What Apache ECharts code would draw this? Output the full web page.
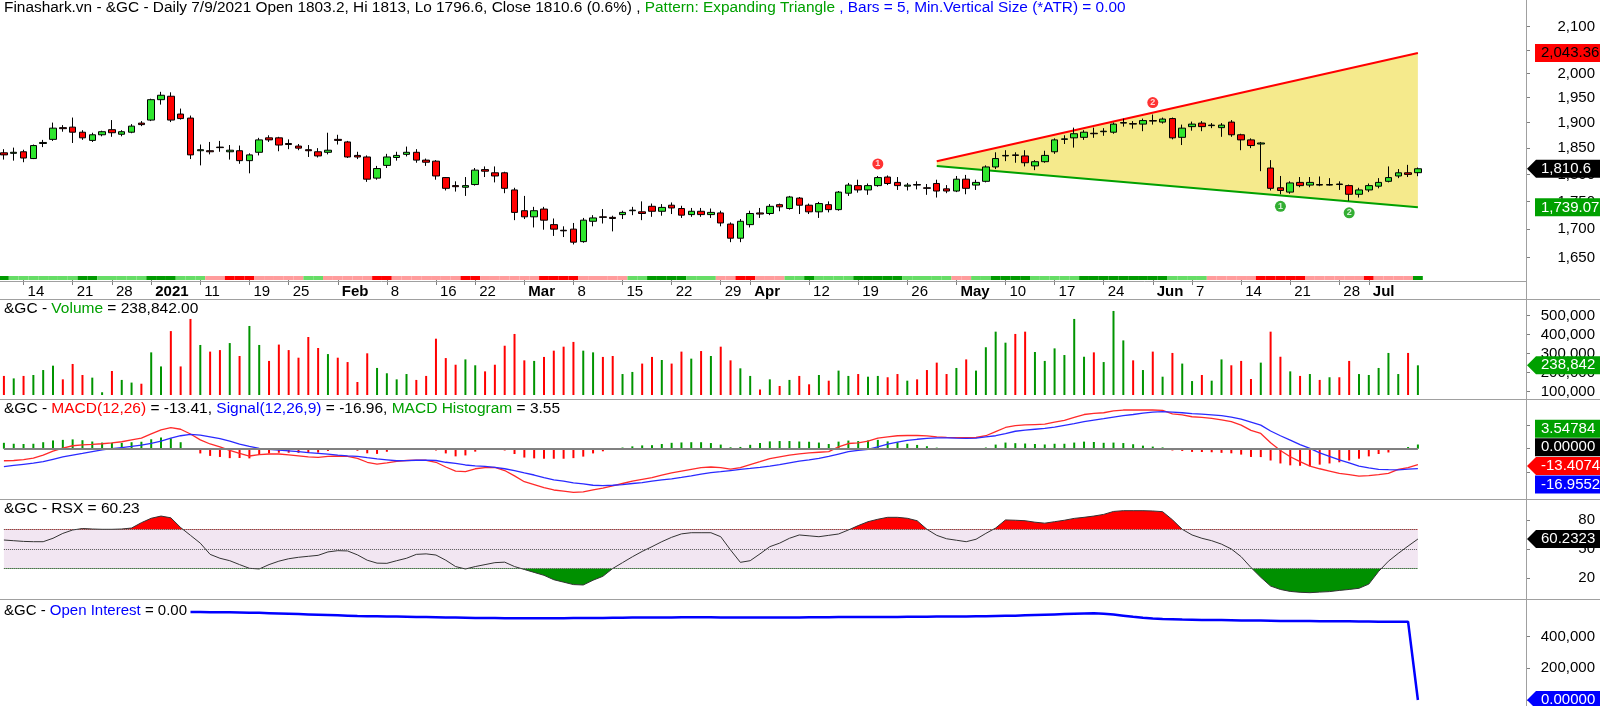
<!DOCTYPE html>
<html>
<head>
<meta charset="utf-8">
<title>&amp;GC Daily</title>
<script src="https://cdn.jsdelivr.net/npm/echarts@6.0.0/dist/echarts.min.js"></script>
<style>
html,body{margin:0;padding:0;background:#ffffff;overflow:hidden;}
#chart{width:1600px;height:706px;}
</style>
</head>
<body>
<div id="chart"></div>
<script>
// ================= DATA =================
const tradingDays = [
  ['2020-12', [10,11,14,15,16,17,18,21,22,23,24,28,29,30,31]],
  ['2021-01', [4,5,6,7,8,11,12,13,14,15,19,20,21,22,25,26,27,28,29]],
  ['2021-02', [1,2,3,4,5,8,9,10,11,12,16,17,18,19,22,23,24,25,26]],
  ['2021-03', [1,2,3,4,5,8,9,10,11,12,15,16,17,18,19,22,23,24,25,26,29,30,31]],
  ['2021-04', [1,5,6,7,8,9,12,13,14,15,16,19,20,21,22,23,26,27,28,29,30]],
  ['2021-05', [3,4,5,6,7,10,11,12,13,14,17,18,19,20,21,24,25,26,27,28]],
  ['2021-06', [1,2,3,4,7,8,9,10,11,14,15,16,17,18,21,22,23,24,25,28,29,30]],
  ['2021-07', [1,2,6,7,8,9]]
];
const dates = tradingDays.flatMap(([m, ds]) => ds.map(d => m + '-' + String(d).padStart(2, '0')));

const dateTicks = [
  ['2020-12-14','14'],['2020-12-21','21'],['2020-12-28','28'],['2021-01-04','2021'],['2021-01-11','11'],
  ['2021-01-19','19'],['2021-01-25','25'],['2021-02-01','Feb'],['2021-02-08','8'],['2021-02-16','16'],
  ['2021-02-22','22'],['2021-03-01','Mar'],['2021-03-08','8'],['2021-03-15','15'],['2021-03-22','22'],
  ['2021-03-29','29'],['2021-04-01','Apr'],['2021-04-12','12'],['2021-04-19','19'],['2021-04-26','26'],
  ['2021-05-03','May'],['2021-05-10','10'],['2021-05-17','17'],['2021-05-24','24'],['2021-06-01','Jun'],
  ['2021-06-07','7'],['2021-06-14','14'],['2021-06-21','21'],['2021-06-28','28'],['2021-07-01','Jul']
];
const boldTickLabels = ['2021','Feb','Mar','Apr','May','Jun','Jul'];

const open = [
 1841,1840,1843,1830,1859,1867,1890,1891,1881,1865,
 1876,1886,1877,1881,1899,1905,1946,1953,1917,1909,
 1845,1845,1852,1843,1845,1826,1842,1870,1870,1859,
 1854,1847,1843,1842,1867,1862,1836,1833,1793,1817,
 1832,1838,1842,1827,1825,1794,1779,1776,1781,1809,
 1803,1803,1771,1733,1722,1736,1708,1698,1700,1678,
 1714,1722,1721,1726,1733,1731,1741,1732,1743,1737,
 1726,1732,1726,1729,1709,1684,1708,1729,1728,1744,
 1737,1756,1743,1731,1744,1735,1765,1779,1771,1779,
 1795,1785,1778,1781,1775,1783,1773,1769,1791,1780,
 1787,1814,1835,1837,1835,1816,1824,1843,1867,1870,
 1871,1879,1882,1881,1899,1898,1897,1904,1901,1908,
 1871,1892,1899,1894,1890,1901,1876,1866,1858,1812,
 1775,1767,1785,1780,1781,1780,1782,1779,1763,1771,
 1778,1787,1797,1803,1803.2];
const high = [
 1848,1851,1847,1857,1866,1900,1895,1910,1885,1880,
 1884,1905,1885,1897,1903,1948,1962,1961,1928,1914,
 1857,1862,1864,1856,1855,1840,1870,1875,1872,1867,
 1858,1856,1850,1880,1876,1864,1843,1836,1816,1839,
 1843,1853,1848,1830,1827,1795,1787,1795,1812,1815,
 1815,1805,1775,1760,1740,1740,1719,1705,1711,1720,
 1725,1736,1724,1733,1740,1750,1746,1745,1748,1742,
 1738,1738,1737,1733,1712,1718,1733,1738,1745,1746,
 1760,1758,1746,1749,1750,1769,1784,1790,1783,1797,
 1798,1795,1784,1787,1782,1790,1780,1797,1799,1790,
 1817,1842,1846,1842,1846,1827,1845,1869,1875,1890,
 1885,1890,1889,1900,1908,1903,1908,1916,1910,1910,
 1896,1902,1903,1899,1899,1905,1878,1869,1862,1827,
 1797,1787,1795,1795,1796,1793,1787,1781,1775,1783,
 1793,1815,1810,1818,1813];
const low = [
 1828,1826,1823,1829,1852,1864,1882,1860,1866,1862,
 1873,1872,1873,1879,1893,1903,1936,1901,1906,1829,
 1817,1838,1843,1828,1820,1802,1836,1862,1844,1848,
 1846,1833,1832,1838,1857,1831,1829,1786,1790,1812,
 1826,1834,1822,1816,1790,1770,1768,1760,1779,1795,
 1785,1765,1716,1718,1703,1699,1688,1686,1673,1676,
 1705,1710,1696,1718,1725,1716,1722,1724,1727,1720,
 1722,1722,1720,1705,1677,1677,1703,1720,1725,1732,
 1735,1727,1727,1720,1730,1733,1760,1766,1762,1777,
 1780,1771,1770,1772,1762,1757,1765,1767,1763,1771,
 1785,1810,1825,1822,1815,1808,1822,1839,1858,1851,
 1866,1870,1874,1878,1892,1888,1883,1896,1898,1867,
 1856,1884,1883,1889,1872,1872,1846,1850,1806,1770,
 1763,1764,1776,1776,1778,1779,1771,1751,1757,1767,
 1774,1785,1793,1795,1796.6];
const close = [
 1837,1842,1831,1855,1861,1889,1888,1881,1870,1876,
 1882,1880,1882,1893,1896,1946,1955,1905,1908,1837,
 1847,1843,1851,1846,1826,1837,1866,1866,1856,1857,
 1850,1845,1835,1846,1865,1833,1833,1791,1811,1833,
 1836,1842,1827,1823,1797,1774,1777,1779,1808,1806,
 1797,1774,1730,1722,1733,1716,1700,1697,1677,1716,
 1720,1721,1719,1730,1734,1728,1732,1739,1738,1725,
 1732,1726,1730,1711,1684,1714,1728,1727,1741,1740,
 1758,1743,1731,1746,1735,1767,1780,1771,1779,1794,
 1783,1779,1780,1780,1774,1769,1769,1791,1774,1785,
 1814,1830,1836,1836,1822,1824,1836,1866,1868,1878,
 1881,1878,1883,1897,1900,1897,1904,1903,1907,1870,
 1889,1897,1892,1895,1895,1876,1866,1855,1860,1774,
 1770,1784,1779,1785,1780,1781,1781,1763,1771,1779,
 1785,1794,1803,1800,1810.6];

// trend band under the price pane: G dark green, g light green, R red, r pink
const trendBand = ('G ggggggg GG ggggg GGG ggg rr RRR rrrrr gg rrrrr RR rrrrrrr RR rrrrrr RRRR rrrrr gg GGGG ggg rr RR rrr gg G gggg GGGGG ggggg rr gg GGGG ggggg GGGGGGGGG gggg rrrrr RRRRR rrrrrr R rrrr G').replace(/\s/g,'').split('');

// expanding triangle
const triUpper = [['2021-04-29', 1825], ['2021-07-09', 2043.36]];
const triLower = [['2021-04-29', 1816], ['2021-07-09', 1739.07]];
const patternTops = ['2021-04-21', '2021-06-01'];
const patternBottoms = ['2021-06-18', '2021-06-29'];

const volume = [
 183000,170000,183000,188000,214000,237000,165000,246000,188000,174000,
 97000,209000,162000,148000,142000,307000,233000,419000,233000,483000,
 346000,311000,319000,356000,288000,446000,346000,262000,348000,319000,
 279000,388000,330000,298000,279000,256000,151000,302000,225000,197000,
 165000,193000,162000,183000,379000,277000,242000,270000,239000,207000,
 242000,342000,404000,265000,262000,283000,316000,337000,362000,316000,
 307000,283000,288000,193000,204000,248000,283000,267000,248000,311000,
 274000,314000,288000,337000,265000,223000,183000,112000,165000,130000,
 162000,183000,139000,188000,158000,211000,183000,193000,179000,183000,
 176000,193000,158000,165000,214000,253000,193000,225000,270000,211000,
 334000,416000,358000,404000,416000,309000,262000,328000,293000,483000,
 284000,307000,256000,525000,370000,265000,214000,311000,179000,304000,
 248000,156000,188000,158000,270000,239000,262000,167000,253000,416000,
 284000,207000,183000,193000,162000,176000,176000,262000,193000,188000,
 225000,304000,193000,304000,238842];

const macd = [
 -10.2,-10.0,-9.2,-8.0,-5.5,-2.0,0.5,2.5,3.2,3.6,
 4.2,5.0,5.9,7.5,9.0,12.5,16.0,17.8,16.5,12.5,
 7.5,4.0,1.5,-1.5,-4.0,-6.2,-5.0,-4.5,-4.5,-5.2,
 -6.0,-7.0,-7.3,-6.5,-6.2,-6.5,-8.2,-11.5,-13.0,-12.0,
 -10.8,-10.0,-9.6,-9.8,-11.5,-15.5,-19.0,-19.5,-17.0,-16.0,
 -15.8,-18.5,-23.0,-28.0,-30.5,-33.0,-35.0,-36.0,-37.0,-36.6,
 -35.0,-33.5,-31.5,-29.5,-27.5,-26.0,-24.5,-22.5,-20.5,-19.0,
 -17.5,-16.0,-15.5,-16.0,-17.3,-16.0,-13.4,-11.0,-8.5,-7.0,
 -5.5,-4.4,-3.6,-3.0,-2.5,1.5,4.4,5.0,6.4,9.0,
 10.1,11.0,11.2,11.2,10.8,10.1,9.6,9.4,9.3,9.5,
 11.0,14.5,18.0,19.5,20.2,20.5,20.8,22.5,24.0,26.5,
 29.0,30.0,30.5,32.0,32.8,32.8,32.8,32.8,32.5,29.5,
 28.6,27.1,26.5,25.7,24.5,22.9,20.0,15.5,12.9,5.0,
 -1.5,-6.8,-11.0,-14.7,-17.0,-19.0,-21.0,-22.0,-23.2,-22.8,
 -22.0,-21.0,-17.5,-16.0,-13.41];
const signal = [
 -15.2,-14.2,-13.2,-12.2,-11.0,-9.0,-7.0,-5.4,-4.0,-2.5,
 -1.0,0.0,1.0,2.0,3.1,4.5,6.5,9.0,11.0,12.1,
 11.5,10.1,8.5,6.5,3.9,2.0,0.3,-0.5,-1.1,-1.8,
 -2.5,-3.4,-4.0,-4.6,-5.4,-6.0,-6.5,-7.6,-8.6,-9.4,
 -10.2,-10.1,-9.8,-9.6,-10.0,-11.5,-12.5,-13.8,-14.5,-15.0,
 -15.8,-17.0,-18.5,-20.5,-22.3,-24.5,-26.5,-27.5,-29.0,-29.9,
 -31.0,-31.3,-31.0,-30.5,-29.5,-28.8,-27.5,-26.5,-25.5,-24.3,
 -23.0,-21.5,-20.3,-19.5,-18.5,-17.5,-16.7,-15.8,-14.7,-13.5,
 -12.0,-10.5,-9.5,-8.2,-6.5,-4.5,-2.5,-1.5,-0.6,1.5,
 3.9,5.5,7.0,8.0,8.7,9.2,9.1,8.9,8.8,8.9,
 10.0,11.0,12.8,14.8,15.8,16.5,17.2,18.3,19.8,21.3,
 23.0,24.3,25.5,26.8,28.0,29.0,30.2,31.0,31.4,31.0,
 30.5,29.8,29.3,28.7,28.0,26.8,25.0,22.5,20.0,15.0,
 11.0,7.3,3.5,0.3,-3.5,-6.5,-9.5,-12.0,-14.7,-16.3,
 -17.5,-17.8,-17.9,-17.4,-16.96];
const macdHist = [
 5.0,4.2,4.0,4.2,5.5,7.0,7.5,7.9,7.2,6.1,
 5.2,5.0,4.9,5.5,5.9,8.0,9.5,8.8,5.5,0.4,
 -4.0,-6.1,-7.0,-8.0,-7.9,-8.2,-5.3,-4.0,-3.4,-3.4,
 -3.5,-3.6,-3.3,-1.9,-0.8,-0.5,-1.7,-3.9,-4.4,-2.6,
 -0.6,0.1,0.2,-0.2,-1.5,-4.0,-6.5,-5.7,-2.5,-1.0,
 0.0,-1.5,-4.5,-7.5,-8.2,-8.5,-8.5,-8.5,-8.0,-6.7,
 -4.0,-2.2,-0.5,1.0,2.0,2.8,3.0,4.0,5.0,5.3,
 5.5,5.5,4.8,3.5,1.2,1.5,3.3,4.8,6.2,6.5,
 6.5,6.1,5.9,5.2,4.0,6.0,6.9,6.5,7.0,7.5,
 6.2,5.5,4.2,3.2,2.1,0.9,0.5,0.5,0.5,0.6,
 1.0,3.5,5.2,4.7,4.4,4.0,3.6,4.2,4.2,5.2,
 6.0,5.7,5.0,5.2,4.8,3.8,2.6,1.8,1.1,-1.5,
 -1.9,-2.7,-2.8,-3.0,-3.5,-3.9,-5.0,-7.0,-7.1,-10.0,
 -12.5,-14.1,-14.5,-15.0,-13.5,-12.5,-11.5,-10.0,-8.5,-6.5,
 -4.5,-3.2,0.4,1.4,3.55];

const rsx = [
 59.2,58.5,57.8,57.5,57.5,61,66,69.5,71,70.5,
 70.2,70.2,70.5,71.5,77,81.5,83.8,82,72,64,
 56,44.5,40.5,38,34,30.2,29.5,34,37.5,40,
 41.5,42.5,43.5,47,48.3,48,44,38.5,35.5,35.3,
 38,40.5,44.5,45,43.8,38.5,32,29.5,32,34,
 36,36.5,32,29,26,23,18.5,16,13.5,13.1,
 18,22,30,36,42,47.5,52.4,57.5,62,65.5,
 66.7,66.7,66.7,62.6,49,36.3,38,45,52.4,56,
 61,64.4,63.5,62.6,64,65.4,69.5,74,78,80.5,
 82.5,82.5,81.5,79,70.2,64,60.5,59,57.5,60,
 66,71.5,79.8,79.5,79,77.5,76.5,78,79.5,81.4,
 82.5,83.8,85.5,88.5,89.3,89.3,89.3,89,88.3,80,
 70.2,64.4,61,58.5,55,50,42.1,31,21,12,
 8.5,6.5,5.6,5.2,5.8,6.3,7.5,8.5,9.7,14,
 27,37.5,45.5,53,60.23];
const rsxLevels = [30, 50, 70];

const openInterest = [
 null,null,null,null,null,null,null,null,null,null,
 null,null,null,null,null,null,null,null,null,
 556000,556000,555000,555000,554000,553000,552000,551000,549000,547000,545000,
 543000,541000,539000,537000,535000,533000,531000,530000,529000,528000,
 527000,526000,525000,524000,523000,522000,521000,520000,519000,518000,
 518000,517000,517000,516000,516000,516000,517000,517000,518000,518000,
 519000,519000,520000,520000,521000,521000,522000,522000,522000,523000,
 523000,523000,523000,522000,522000,521000,521000,521000,521000,522000,
 522000,522000,523000,523000,523000,524000,524000,524000,525000,525000,
 525000,525000,526000,526000,526000,527000,527000,528000,528000,529000,
 530000,531000,532000,533000,535000,537000,539000,541000,543000,545000,
 547000,548000,545000,540000,533000,526000,520000,515000,512000,510000,
 508000,507000,506000,505000,505000,504000,503000,502000,502000,501000,
 500000,500000,499000,499000,498000,498000,497000,497000,496000,496000,
 495000,495000,495000,495000,0];

const priceTicks = [1650,1700,1750,1800,1850,1900,1950,2000,2050,2100];
const volumeTicks = [100000,200000,300000,400000,500000];
const macdTicks = [-20, 0, 20];
const rsxTicks = [20, 50, 80];
const oiTicks = [0, 200000, 400000];

// ================= STYLE / LAYOUT =================
const FONT = '"Liberation Sans", Arial, Helvetica, sans-serif';
const C_UP = '#2ee62e', C_DN = '#ff0000';
const C_VUP = '#009400', C_VDN = '#ff0000';
const BAND_COLORS = {G:'#009a00', g:'#66dd66', R:'#ff0000', r:'#ff9c9c'};
const N_FUTURE = 10;
const cats = dates.concat(Array.from({length: N_FUTURE}, (_, i) => 'f' + i));
const last = dates.length - 1;
const idxOf = d => dates.indexOf(d);

const PMIN = 1629.0, PMAX = 2159.4;     // log price axis range
const VMIN = 82632, VMAX = 582632;
const MMIN = -41.8, MMAX = 41.3;
const RMIN = -0.26, RMAX = 100.26;
const OMIN = 0, OMAX = 632000;

const tickMap = new Map(dateTicks);
const boldSet = new Set(boldTickLabels);
const fmtInt = v => String(Math.round(v)).replace(/\B(?=(\d{3})+(?!\d))/g, ',');

const chart = echarts.init(document.getElementById('chart'), null, {renderer: 'canvas'});

const gridDefs = [
  {top: 0, height: 270},
  {top: 276, height: 4},
  {top: 300, height: 95},
  {top: 400, height: 98},
  {top: 500, height: 98},
  {top: 600, height: 100}
].map(g => Object.assign({left: -1, right: 79, containLabel: false, outerBoundsMode: 'none'}, g));

function xa(gi, extra) {
  return Object.assign({
    type: 'category', gridIndex: gi, data: cats, boundaryGap: true,
    axisLine: {show: false}, axisTick: {show: false}, axisLabel: {show: false}, splitLine: {show: false}
  }, extra || {});
}
const tickLineStyle = {color: '#808080', width: 1};
function ya(gi, min, max, ticks, showLabels, fmt, extra) {
  return Object.assign({
    type: 'value', gridIndex: gi, position: 'right', offset: 5, min, max, scale: false,
    axisLine: {show: false}, splitLine: {show: false},
    axisTick: {show: true, length: 4, lineStyle: tickLineStyle, customValues: ticks},
    axisLabel: {show: showLabels, customValues: ticks, formatter: fmt, margin: 69, align: 'right',
                fontSize: 15, color: '#000', fontFamily: FONT}
  }, extra || {});
}

const xAxes = [
  xa(0),
  xa(1, {
    axisTick: {show: true, alignWithLabel: true, interval: (i, v) => tickMap.has(v), length: 5, lineStyle: tickLineStyle},
    axisLabel: {show: true, interval: (i, v) => tickMap.has(v),
      formatter: v => { const t = tickMap.get(v) || ''; return boldSet.has(t) ? '{b|' + t + '}' : t; },
      align: 'left', padding: [0, 0, 0, 4], margin: 4, fontSize: 15, color: '#000', fontFamily: FONT,
      rich: {b: {fontWeight: 'bold', fontSize: 15, color: '#000', fontFamily: FONT}}}
  }),
  xa(2), xa(3), xa(4), xa(5)
];

const yAxes = [
  {type: 'log', gridIndex: 0, min: PMIN, max: PMAX, show: false, logBase: 10},
  ya(0, Math.log(PMIN), Math.log(PMAX), priceTicks.map(Math.log), true, v => fmtInt(Math.exp(v))),
  {type: 'value', gridIndex: 1, min: 0, max: 1, show: false},
  ya(2, VMIN, VMAX, volumeTicks, true, v => fmtInt(v)),
  ya(3, MMIN, MMAX, macdTicks, false, v => String(v)),
  ya(4, RMIN, RMAX, rsxTicks, true, v => String(v)),
  ya(5, OMIN, OMAX, oiTicks, true, v => (v === 0 ? '' : fmtInt(v)))
];

const series = [];
// 0 triangle
series.push({
  type: 'custom', name: 'triangle', xAxisIndex: 0, yAxisIndex: 0, z: 1, silent: true,
  data: [[0]],
  renderItem: (params, api) => {
    const u0 = api.coord([idxOf(triUpper[0][0]), triUpper[0][1]]);
    const u1 = api.coord([idxOf(triUpper[1][0]), triUpper[1][1]]);
    const l0 = api.coord([idxOf(triLower[0][0]), triLower[0][1]]);
    const l1 = api.coord([idxOf(triLower[1][0]), triLower[1][1]]);
    return {type: 'group', children: [
      {type: 'polygon', shape: {points: [u0, u1, l1, l0]}, style: {fill: '#f5ea8c'}},
      {type: 'line', shape: {x1: u0[0], y1: u0[1], x2: u1[0], y2: u1[1]}, style: {stroke: '#ff0000', lineWidth: 2}},
      {type: 'line', shape: {x1: l0[0], y1: l0[1], x2: l1[0], y2: l1[1]}, style: {stroke: '#00a000', lineWidth: 2}}
    ]};
  }
});
// 1 candles
series.push({
  type: 'candlestick', name: 'price', xAxisIndex: 0, yAxisIndex: 0, z: 5, barWidth: 7,
  data: dates.map((d, i) => [open[i], close[i], low[i], high[i]]),
  itemStyle: {color: C_UP, color0: C_DN, borderColor: '#000', borderColor0: '#000', borderWidth: 1},
  emphasis: {disabled: true}
});
// 2 pattern markers
series.push({
  type: 'scatter', name: 'pattern', xAxisIndex: 0, yAxisIndex: 0, z: 6, symbol: 'circle', symbolSize: 11, silent: true,
  data: patternTops.map((d, k) => ({value: [idxOf(d), high[idxOf(d)]], symbolOffset: [0, -12],
          itemStyle: {color: '#ff0000'}, label: {formatter: String(k + 1)}}))
        .concat(patternBottoms.map((d, k) => ({value: [idxOf(d), low[idxOf(d)]], symbolOffset: [0, 12],
          itemStyle: {color: '#009a00'}, label: {formatter: String(k + 1)}}))),
  label: {show: true, position: 'inside', color: '#fff', fontSize: 9, fontWeight: 'bold', fontFamily: FONT}
});
// 3 trend band
series.push({
  type: 'bar', name: 'band', xAxisIndex: 1, yAxisIndex: 2, barWidth: '100%', silent: true,
  data: trendBand.map(c => ({value: 1, itemStyle: {color: BAND_COLORS[c]}}))
});
// 4 volume
series.push({
  type: 'bar', name: 'volume', xAxisIndex: 2, yAxisIndex: 3, barWidth: 2, silent: true,
  data: volume.map((v, i) => ({value: v, itemStyle: {color: close[i] >= open[i] ? C_VUP : C_VDN}}))
});
// 5 MACD histogram
series.push({
  type: 'bar', name: 'hist', xAxisIndex: 3, yAxisIndex: 4, barWidth: 2, silent: true,
  data: macdHist.map(v => ({value: v, itemStyle: {color: v >= 0 ? '#009a00' : '#ff0000'}})),
  markLine: {silent: true, symbol: 'none', label: {show: false}, lineStyle: {color: '#808080', width: 2, type: 'solid'},
             data: [[{coord: [0, 0]}, {coord: [last, 0]}]]}
});
// 6 MACD, 7 Signal
series.push({type: 'line', name: 'macd', xAxisIndex: 3, yAxisIndex: 4, data: macd, showSymbol: false, symbol: 'none',
  lineStyle: {color: '#ff2a2a', width: 1.3}, silent: true, z: 3});
series.push({type: 'line', name: 'signal', xAxisIndex: 3, yAxisIndex: 4, data: signal, showSymbol: false, symbol: 'none',
  lineStyle: {color: '#2a2aff', width: 1.3}, silent: true, z: 3});
// 8 RSX upper fill, 9 RSX lower fill
series.push({type: 'line', name: 'rsxUp', xAxisIndex: 4, yAxisIndex: 5, data: rsx, showSymbol: false, symbol: 'none',
  lineStyle: {opacity: 0, width: 0}, areaStyle: {origin: rsxLevels[2], opacity: 1}, silent: true, z: 2});
series.push({type: 'line', name: 'rsxDn', xAxisIndex: 4, yAxisIndex: 5, data: rsx, showSymbol: false, symbol: 'none',
  lineStyle: {opacity: 0, width: 0}, areaStyle: {origin: rsxLevels[0], opacity: 1}, silent: true, z: 2});
// 10 RSX line
series.push({type: 'line', name: 'rsx', xAxisIndex: 4, yAxisIndex: 5, data: rsx, showSymbol: false, symbol: 'none',
  lineStyle: {color: '#333', width: 1}, silent: true, z: 3,
  markArea: {silent: true, itemStyle: {color: '#f2e6f2'},
    data: [[{coord: [0, rsxLevels[0]]}, {coord: [last, rsxLevels[2]]}]]},
  markLine: {silent: true, symbol: 'none', label: {show: false}, lineStyle: {type: 'dotted', color: '#555', width: 1},
    data: rsxLevels.map(l => [{coord: [0, l]}, {coord: [last, l]}])}
});
// 11 OI
series.push({type: 'line', name: 'oi', xAxisIndex: 5, yAxisIndex: 6, data: openInterest, showSymbol: false, symbol: 'none',
  lineStyle: {color: '#0000ff', width: 2.5}, silent: true, connectNulls: false});

const pct = ((close[last] / close[last - 1] - 1) * 100).toFixed(1);
function rich(size, colors) {
  const r = {};
  Object.keys(colors).forEach(k => r[k] = {fontSize: size, fontFamily: FONT, color: colors[k]});
  return r;
}
const COLORS = {k: '#000', gb: '#00a000', b: '#0000ff', r: '#ff0000'};
function mkTitle(top, size, text) {
  return {padding: 0, left: 4, top, text,
    textStyle: {fontSize: size, fontFamily: FONT, color: '#000', fontWeight: 'normal', rich: rich(size, COLORS)}};
}
const titles = [
  mkTitle(0, 15.4, '{k|Finashark.vn - &GC - Daily 7/9/2021 Open ' + open[last] + ', Hi ' + high[last] + ', Lo ' + low[last] +
     ', Close ' + close[last] + ' (' + pct + '%) , }{gb|Pattern: Expanding Triangle}{b| , Bars = 5, Min.Vertical Size (*ATR) = 0.00}'),
  mkTitle(301, 15.5, '{k|&GC - }{gb|Volume}{k| = ' + fmtInt(volume[last]) + '.00}'),
  mkTitle(401, 15.5, '{k|&GC - }{r|MACD(12,26)}{k| = ' + macd[last].toFixed(2) + ', }{b|Signal(12,26,9)}{k| = ' +
     signal[last].toFixed(2) + ', }{gb|MACD Histogram}{k| = ' + macdHist[last].toFixed(2) + '}'),
  mkTitle(501, 15.5, '{k|&GC - RSX = ' + rsx[last].toFixed(2) + '}'),
  mkTitle(603, 15, '{k|&GC - }{b|Open Interest}{k| = ' + (openInterest[last]).toFixed(2) + '}')
];

chart.setOption({
  animation: false,
  backgroundColor: '#ffffff',
  title: titles,
  grid: gridDefs,
  xAxis: xAxes,
  yAxis: yAxes,
  visualMap: [
    {type: 'piecewise', show: false, seriesIndex: 8, dimension: 1,
     pieces: [{gt: rsxLevels[2], lte: 1000, color: '#ff0000'}, {gte: -1000, lte: rsxLevels[2], color: 'rgba(255,255,255,0)'}]},
    {type: 'piecewise', show: false, seriesIndex: 9, dimension: 1,
     pieces: [{gte: -1000, lt: rsxLevels[0], color: '#009000'}, {gte: rsxLevels[0], lte: 1000, color: 'rgba(255,255,255,0)'}]}
  ],
  series
});

// ================= right-hand value boxes & frame =================
const boxSets = [
  {yAxisIndex: 0, items: [
    {v: triUpper[1][1], text: '2,043.36', bg: '#ff0000', fg: '#000', arrow: false},
    {v: close[last], text: '1,810.6', bg: '#000000', fg: '#fff', arrow: true},
    {v: triLower[1][1], text: '1,739.07', bg: '#00a000', fg: '#fff', arrow: false}]},
  {yAxisIndex: 3, items: [{v: volume[last], text: '238,842', bg: '#00a000', fg: '#fff', arrow: true}]},
  {yAxisIndex: 4, items: [
    {v: macdHist[last], text: '3.54784', bg: '#00a000', fg: '#fff', arrow: false},
    {v: 0, text: '0.00000', bg: '#000000', fg: '#fff', arrow: false},
    {v: macd[last], text: '-13.4074', bg: '#ff0000', fg: '#fff', arrow: true},
    {v: signal[last], text: '-16.9552', bg: '#0000ff', fg: '#fff', arrow: false}]},
  {yAxisIndex: 5, items: [{v: rsx[last], text: '60.2323', bg: '#000000', fg: '#fff', arrow: true}]},
  {yAxisIndex: 6, items: [{v: openInterest[last], text: '0.00000', bg: '#0000ff', fg: '#fff', arrow: true}]}
];
const BOX_H = 18, GAP = 18.6;
function layoutBoxes(items) {
  items.sort((a, b) => a.y0 - b.y0);
  let clusters = items.map(it => ({items: [it]}));
  const centerOf = c => c.items.reduce((s, it) => s + it.y0, 0) / c.items.length;
  let merged = true;
  while (merged) {
    merged = false;
    for (let i = 0; i < clusters.length - 1; i++) {
      const a = clusters[i], b = clusters[i + 1];
      const aBot = centerOf(a) + (a.items.length - 1) * GAP / 2;
      const bTop = centerOf(b) - (b.items.length - 1) * GAP / 2;
      if (bTop - aBot < GAP) { clusters.splice(i, 2, {items: a.items.concat(b.items)}); merged = true; break; }
    }
  }
  clusters.forEach(c => { const m = centerOf(c); c.items.forEach((it, k) => { it.y = m + (k - (c.items.length - 1) / 2) * GAP; }); });
}
const gfx = [];
[299.5, 399.5, 499.5, 599.5].forEach(y => gfx.push({type: 'line', z: 50, silent: true,
  shape: {x1: 0, y1: y, x2: 1600, y2: y}, style: {stroke: '#a0a0a0', lineWidth: 1}}));
gfx.push({type: 'line', z: 50, silent: true, shape: {x1: 0, y1: 281.5, x2: 1526, y2: 281.5}, style: {stroke: '#a0a0a0', lineWidth: 1}});
gfx.push({type: 'line', z: 50, silent: true, shape: {x1: 1526.5, y1: 0, x2: 1526.5, y2: 706}, style: {stroke: '#a0a0a0', lineWidth: 1}});

boxSets.forEach(set => {
  set.items.forEach(it => { it.y0 = chart.convertToPixel({yAxisIndex: set.yAxisIndex}, it.v); });
  layoutBoxes(set.items);
  set.items.forEach(it => {
    const y = it.y, h = BOX_H / 2;
    if (it.arrow) {
      gfx.push({type: 'polygon', z: 60, silent: true,
        shape: {points: [[1527, y], [1536, y - h], [1600, y - h], [1600, y + h], [1536, y + h]]}, style: {fill: it.bg}});
    } else {
      gfx.push({type: 'rect', z: 60, silent: true, shape: {x: 1535, y: y - h, width: 65, height: BOX_H}, style: {fill: it.bg}});
    }
    gfx.push({type: 'text', z: 61, silent: true, x: 1541, y: y,
      style: {text: it.text, fill: it.fg, font: '15px ' + FONT, verticalAlign: 'middle', align: 'left'}});
  });
});
chart.setOption({graphic: {elements: gfx}});
</script>
</body>
</html>
